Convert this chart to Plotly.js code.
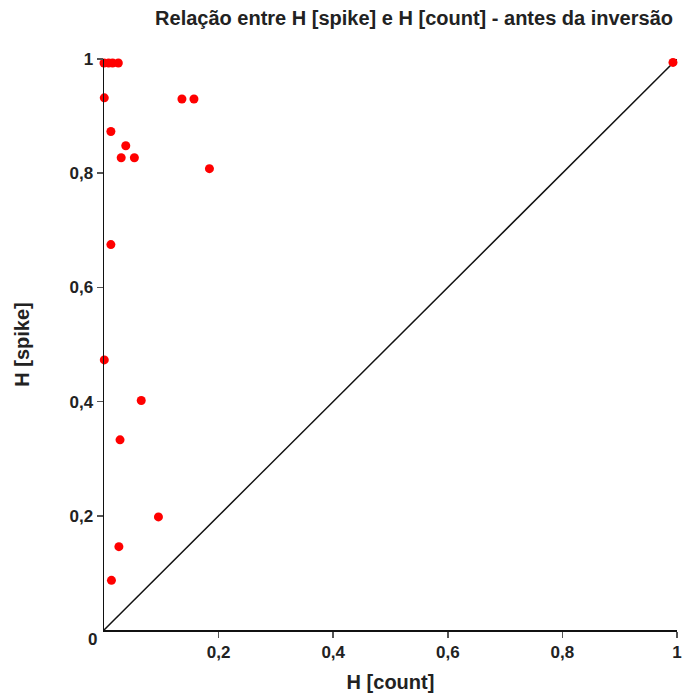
<!DOCTYPE html>
<html>
<head>
<meta charset="utf-8">
<script src="https://cdn.plot.ly/plotly-3.0.1.min.js"></script>
<style>html,body{margin:0;padding:0;background:#fff;}#chart{width:685px;height:698px;}</style>
</head>
<body>
<div id="chart"></div>
<script>
// H [count] (x) and H [spike] (y)
const hCount = [0.0, 0.008, 0.015, 0.025, 0.0005, 0.136, 0.157, 0.012, 0.038, 0.030, 0.053, 0.184, 0.012, 0.0005, 0.065, 0.028, 0.095, 0.026, 0.013, 0.993];
const hSpike = [0.993, 0.993, 0.993, 0.993, 0.932, 0.930, 0.930, 0.873, 0.848, 0.827, 0.827, 0.808, 0.675, 0.473, 0.402, 0.333, 0.198, 0.146, 0.087, 0.994];
const identityLine = [0, 1];
const tickVals = [0.2, 0.4, 0.6, 0.8, 1];
const tickText = ["0,2", "0,4", "0,6", "0,8", "1"];

const font = "Liberation Sans, Arial, sans-serif";

const traces = [
  {x: identityLine, y: identityLine, mode: 'lines', line: {color: '#111', width: 1.5}, hoverinfo: 'skip', showlegend: false},
  {x: hCount, y: hSpike, mode: 'markers', marker: {color: '#ff0000', size: 9}, cliponaxis: false, showlegend: false}
];

const axisCommon = {
  range: [0, 1], showgrid: false, zeroline: false, showline: true, linecolor: '#111', linewidth: 1.5,
  ticks: 'outside', ticklen: 6, tickcolor: '#555', tickwidth: 1.5,
  tickvals: tickVals, ticktext: tickText,
  tickfont: {family: font, size: 17, color: '#222', weight: 'bold'}
};

const layout = {
  width: 685, height: 698,
  margin: {l: 104, r: 8, t: 59, b: 68},
  paper_bgcolor: '#fff', plot_bgcolor: '#fff',
  title: {text: '<b>Relação entre H [spike] e H [count] - antes da inversão</b>', font: {family: font, size: 20, color: '#222'}, x: 0.993, xanchor: 'right', xref: 'paper', y: 0.974, yanchor: 'middle'},
  xaxis: Object.assign({}, axisCommon, {title: {text: '<b>H [count]</b>', font: {family: font, size: 20, color: '#222'}, standoff: 14}}),
  yaxis: Object.assign({}, axisCommon, {title: {text: '<b>H [spike]</b>', font: {family: font, size: 20, color: '#222'}, standoff: 34}}),
  annotations: [{text: '<b>0</b>', x: 0, y: 0, xref: 'x', yref: 'y', showarrow: false, xshift: -12, yshift: -9, font: {family: font, size: 17, color: '#222'}}]
};

Plotly.newPlot('chart', traces, layout, {displayModeBar: false, staticPlot: true});
</script>
</body>
</html>
